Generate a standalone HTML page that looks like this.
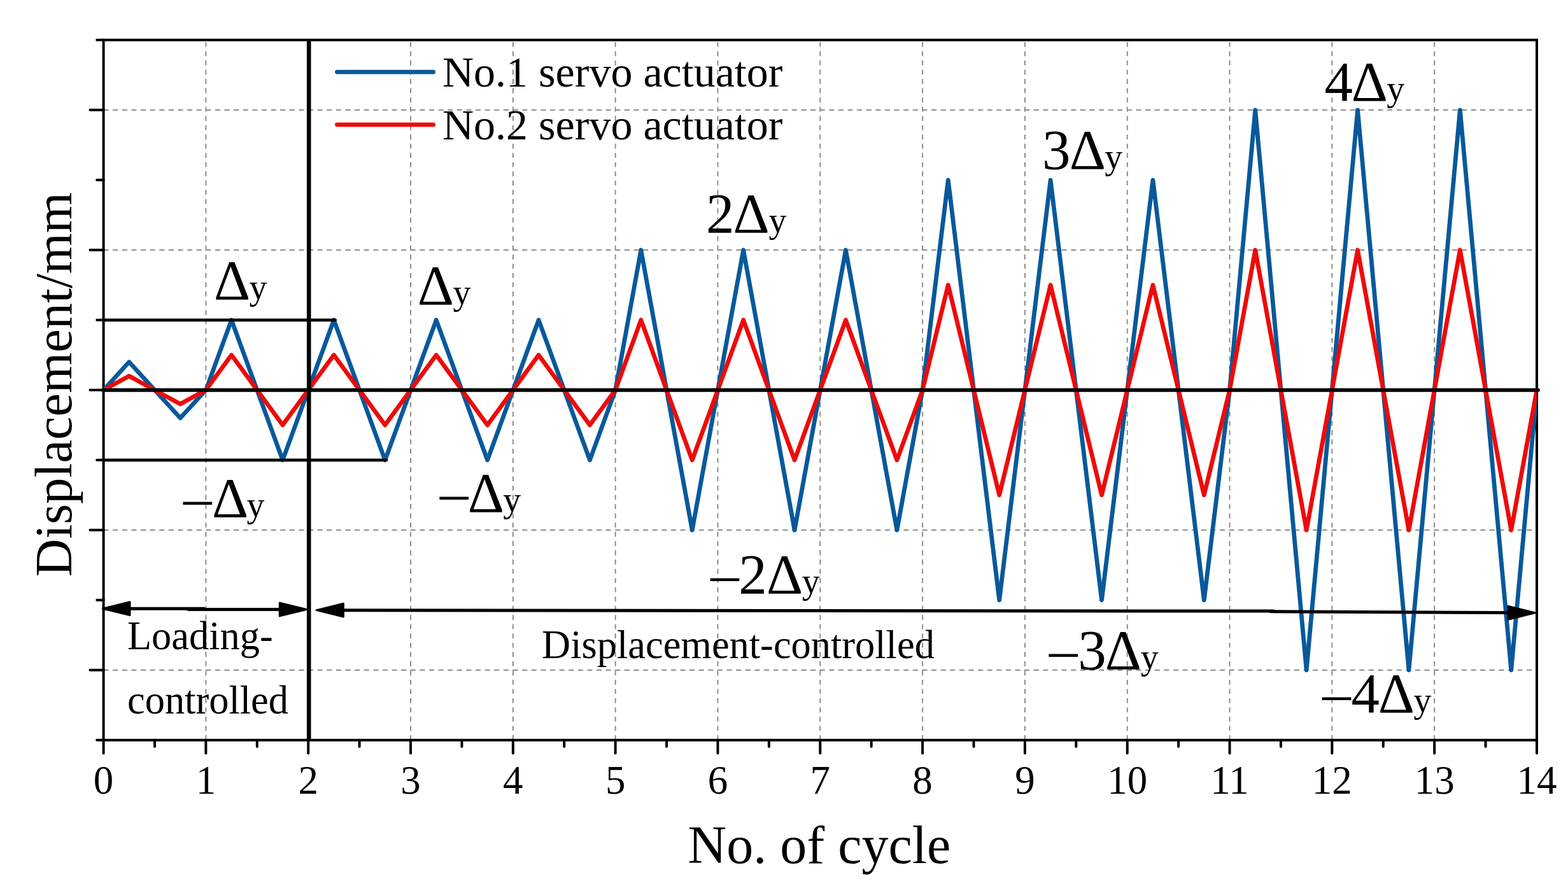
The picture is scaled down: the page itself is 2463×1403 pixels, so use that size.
<!DOCTYPE html><html><head><meta charset="utf-8"><title>Displacement vs cycle</title><style>html,body{margin:0;padding:0;background:#fff;}svg{display:block;}text{font-family:'Liberation Serif','Times New Roman',serif;fill:#000;}</style></head><body><svg width="2463" height="1403" viewBox="0 0 2463 1403"><rect width="2463" height="1403" fill="#fff"/><g stroke="#888888" stroke-width="1.9" fill="none"><line x1="323.41" y1="1162.80" x2="323.41" y2="62.80" stroke-dasharray="7.8 6.72"/><line x1="484.23" y1="1162.80" x2="484.23" y2="62.80" stroke-dasharray="7.8 6.72"/><line x1="645.04" y1="1162.80" x2="645.04" y2="62.80" stroke-dasharray="7.8 6.72"/><line x1="805.86" y1="1162.80" x2="805.86" y2="62.80" stroke-dasharray="7.8 6.72"/><line x1="966.67" y1="1162.80" x2="966.67" y2="62.80" stroke-dasharray="7.8 6.72"/><line x1="1127.48" y1="1162.80" x2="1127.48" y2="62.80" stroke-dasharray="7.8 6.72"/><line x1="1288.30" y1="1162.80" x2="1288.30" y2="62.80" stroke-dasharray="7.8 6.72"/><line x1="1449.11" y1="1162.80" x2="1449.11" y2="62.80" stroke-dasharray="7.8 6.72"/><line x1="1609.93" y1="1162.80" x2="1609.93" y2="62.80" stroke-dasharray="7.8 6.72"/><line x1="1770.74" y1="1162.80" x2="1770.74" y2="62.80" stroke-dasharray="7.8 6.72"/><line x1="1931.55" y1="1162.80" x2="1931.55" y2="62.80" stroke-dasharray="7.8 6.72"/><line x1="2092.37" y1="1162.80" x2="2092.37" y2="62.80" stroke-dasharray="7.8 6.72"/><line x1="2253.18" y1="1162.80" x2="2253.18" y2="62.80" stroke-dasharray="7.8 6.72"/><line x1="162.60" y1="172.80" x2="2414.00" y2="172.80" stroke-dasharray="8 6.612"/><line x1="162.60" y1="392.80" x2="2414.00" y2="392.80" stroke-dasharray="8 6.612"/><line x1="162.60" y1="832.80" x2="2414.00" y2="832.80" stroke-dasharray="8 6.612"/><line x1="162.60" y1="1052.80" x2="2414.00" y2="1052.80" stroke-dasharray="8 6.612"/></g><g stroke="#000" fill="none" stroke-width="4" stroke-linecap="round"><rect x="162.60" y="62.80" width="2251.40" height="1100.00" fill="none"/><line x1="152.20" y1="1162.80" x2="162.60" y2="1162.80"/><line x1="141.50" y1="1052.80" x2="162.60" y2="1052.80"/><line x1="152.20" y1="942.80" x2="162.60" y2="942.80"/><line x1="141.50" y1="832.80" x2="162.60" y2="832.80"/><line x1="152.20" y1="722.80" x2="162.60" y2="722.80"/><line x1="141.50" y1="612.80" x2="162.60" y2="612.80"/><line x1="152.20" y1="502.80" x2="162.60" y2="502.80"/><line x1="141.50" y1="392.80" x2="162.60" y2="392.80"/><line x1="152.20" y1="282.80" x2="162.60" y2="282.80"/><line x1="141.50" y1="172.80" x2="162.60" y2="172.80"/><line x1="152.20" y1="62.80" x2="162.60" y2="62.80"/><line x1="162.60" y1="1162.80" x2="162.60" y2="1183.50"/><line x1="243.01" y1="1162.80" x2="243.01" y2="1173.10"/><line x1="323.41" y1="1162.80" x2="323.41" y2="1183.50"/><line x1="403.82" y1="1162.80" x2="403.82" y2="1173.10"/><line x1="484.23" y1="1162.80" x2="484.23" y2="1183.50"/><line x1="564.63" y1="1162.80" x2="564.63" y2="1173.10"/><line x1="645.04" y1="1162.80" x2="645.04" y2="1183.50"/><line x1="725.45" y1="1162.80" x2="725.45" y2="1173.10"/><line x1="805.86" y1="1162.80" x2="805.86" y2="1183.50"/><line x1="886.26" y1="1162.80" x2="886.26" y2="1173.10"/><line x1="966.67" y1="1162.80" x2="966.67" y2="1183.50"/><line x1="1047.08" y1="1162.80" x2="1047.08" y2="1173.10"/><line x1="1127.48" y1="1162.80" x2="1127.48" y2="1183.50"/><line x1="1207.89" y1="1162.80" x2="1207.89" y2="1173.10"/><line x1="1288.30" y1="1162.80" x2="1288.30" y2="1183.50"/><line x1="1368.70" y1="1162.80" x2="1368.70" y2="1173.10"/><line x1="1449.11" y1="1162.80" x2="1449.11" y2="1183.50"/><line x1="1529.52" y1="1162.80" x2="1529.52" y2="1173.10"/><line x1="1609.93" y1="1162.80" x2="1609.93" y2="1183.50"/><line x1="1690.33" y1="1162.80" x2="1690.33" y2="1173.10"/><line x1="1770.74" y1="1162.80" x2="1770.74" y2="1183.50"/><line x1="1851.15" y1="1162.80" x2="1851.15" y2="1173.10"/><line x1="1931.55" y1="1162.80" x2="1931.55" y2="1183.50"/><line x1="2011.96" y1="1162.80" x2="2011.96" y2="1173.10"/><line x1="2092.37" y1="1162.80" x2="2092.37" y2="1183.50"/><line x1="2172.78" y1="1162.80" x2="2172.78" y2="1173.10"/><line x1="2253.18" y1="1162.80" x2="2253.18" y2="1183.50"/><line x1="2333.59" y1="1162.80" x2="2333.59" y2="1173.10"/><line x1="2414.00" y1="1162.80" x2="2414.00" y2="1183.50"/></g><defs><clipPath id="pc"><rect x="162.60" y="62.80" width="2251.40" height="1100.00"/></clipPath></defs><g clip-path="url(#pc)"><path d="M162.60,612.80 L202.80,568.80 L243.01,612.80 L283.21,656.80 L323.41,612.80 L363.62,502.80 L403.82,612.80 L444.02,722.80 L484.23,612.80 L524.43,502.80 L564.63,612.80 L604.84,722.80 L645.04,612.80 L685.25,502.80 L725.45,612.80 L765.65,722.80 L805.86,612.80 L846.06,502.80 L886.26,612.80 L926.47,722.80 L966.67,612.80 L1006.87,392.80 L1047.08,612.80 L1087.28,832.80 L1127.48,612.80 L1167.69,392.80 L1207.89,612.80 L1248.09,832.80 L1288.30,612.80 L1328.50,392.80 L1368.70,612.80 L1408.91,832.80 L1449.11,612.80 L1489.32,282.80 L1529.52,612.80 L1569.72,942.80 L1609.93,612.80 L1650.13,282.80 L1690.33,612.80 L1730.54,942.80 L1770.74,612.80 L1810.94,282.80 L1851.15,612.80 L1891.35,942.80 L1931.55,612.80 L1971.76,172.80 L2011.96,612.80 L2052.16,1052.80 L2092.37,612.80 L2132.57,172.80 L2172.78,612.80 L2212.98,1052.80 L2253.18,612.80 L2293.39,172.80 L2333.59,612.80 L2373.79,1052.80 L2414.00,612.80" fill="none" stroke="#08599B" stroke-width="6.8" stroke-linejoin="round" stroke-linecap="round"/><path d="M162.60,612.80 L202.80,590.80 L243.01,612.80 L283.21,634.80 L323.41,612.80 L363.62,557.80 L403.82,612.80 L444.02,667.80 L484.23,612.80 L524.43,557.80 L564.63,612.80 L604.84,667.80 L645.04,612.80 L685.25,557.80 L725.45,612.80 L765.65,667.80 L805.86,612.80 L846.06,557.80 L886.26,612.80 L926.47,667.80 L966.67,612.80 L1006.87,502.80 L1047.08,612.80 L1087.28,722.80 L1127.48,612.80 L1167.69,502.80 L1207.89,612.80 L1248.09,722.80 L1288.30,612.80 L1328.50,502.80 L1368.70,612.80 L1408.91,722.80 L1449.11,612.80 L1489.32,447.80 L1529.52,612.80 L1569.72,777.80 L1609.93,612.80 L1650.13,447.80 L1690.33,612.80 L1730.54,777.80 L1770.74,612.80 L1810.94,447.80 L1851.15,612.80 L1891.35,777.80 L1931.55,612.80 L1971.76,392.80 L2011.96,612.80 L2052.16,832.80 L2092.37,612.80 L2132.57,392.80 L2172.78,612.80 L2212.98,832.80 L2253.18,612.80 L2293.39,392.80 L2333.59,612.80 L2373.79,832.80 L2414.00,612.80" fill="none" stroke="#EE0A0A" stroke-width="6.8" stroke-linejoin="round" stroke-linecap="round"/></g><g stroke="#000" fill="none" stroke-linecap="round"><line x1="161.60" y1="612.80" x2="2416.00" y2="612.80" stroke-width="5.8"/><line x1="162.60" y1="502.80" x2="526.63" y2="502.80" stroke-width="4.8"/><line x1="162.60" y1="722.80" x2="607.04" y2="722.80" stroke-width="4.8"/><line x1="485.2" y1="62.80" x2="485.2" y2="1162.80" stroke-width="6.6" stroke-linecap="butt"/></g><g stroke="#000" fill="#000" stroke-width="5" stroke-linecap="round" stroke-linejoin="round"><line x1="163" y1="956.2" x2="320.5" y2="956.2"/><line x1="296" y1="957.4" x2="470" y2="957.6"/><line x1="510" y1="958.7" x2="2000" y2="960.1"/><line x1="1996" y1="960.8" x2="2400" y2="962.7"/><g stroke-width="3"><path d="M161.8,956.2 L204.0,945.8 L204.0,966.6 Z"/><path d="M481.5,957.5 L439.3,947.1 L439.3,967.9 Z"/><path d="M497.2,958.6 L539.4,948.2 L539.4,969.0 Z"/><path d="M2411.2,962.8 L2369.0,952.4 L2369.0,973.2 Z"/></g></g><line x1="529.5" y1="113.1" x2="680.7" y2="113.1" stroke="#08599B" stroke-width="6.8" stroke-linecap="round"/><line x1="529.5" y1="195.8" x2="680.7" y2="195.8" stroke="#EE0A0A" stroke-width="6.8" stroke-linecap="round"/><text x="695.0" y="135.9" font-size="68">No.1 servo actuator</text><text x="695.0" y="219.3" font-size="68">No.2 servo actuator</text><text x="335.9" y="469.7" font-size="89">Δ</text><text x="391.6" y="469.7" font-size="56">y</text><text x="655.8" y="477.8" font-size="89">Δ</text><text x="711.4" y="477.8" font-size="56">y</text><text x="1109.0" y="364.9" font-size="89">2</text><text x="1151.6" y="364.9" font-size="89">Δ</text><text x="1207.5" y="364.9" font-size="56">y</text><text x="1637.0" y="264.8" font-size="89">3</text><text x="1679.7" y="264.8" font-size="89">Δ</text><text x="1735.3" y="264.8" font-size="56">y</text><text x="2080.4" y="158.0" font-size="89">4</text><text x="2122.7" y="158.0" font-size="89">Δ</text><text x="2178.3" y="158.0" font-size="56">y</text><text x="288.1" y="811.8" font-size="89">–</text><text x="332.9" y="811.8" font-size="89">Δ</text><text x="387.5" y="811.8" font-size="56">y</text><text x="690.9" y="803.9" font-size="89">–</text><text x="734.7" y="803.9" font-size="89">Δ</text><text x="790.3" y="803.9" font-size="56">y</text><text x="1116.2" y="931.6" font-size="89">–</text><text x="1160.2" y="931.6" font-size="89">2</text><text x="1203.9" y="931.6" font-size="89">Δ</text><text x="1259.7" y="931.6" font-size="56">y</text><text x="1648.1" y="1050.6" font-size="89">–</text><text x="1693.3" y="1050.6" font-size="89">3</text><text x="1735.8" y="1050.6" font-size="89">Δ</text><text x="1791.7" y="1050.6" font-size="56">y</text><text x="2077.2" y="1118.6" font-size="89">–</text><text x="2122.4" y="1118.6" font-size="89">4</text><text x="2164.8" y="1118.6" font-size="89">Δ</text><text x="2220.5" y="1118.6" font-size="56">y</text><text x="200.0" y="1019.7" font-size="62.4">Loading-</text><text x="200.0" y="1120.7" font-size="62.4">controlled</text><text x="851.1" y="1033.9" font-size="62.4">Displacement-controlled</text><text x="162.60" y="1247" font-size="63" text-anchor="middle">0</text><text x="323.41" y="1247" font-size="63" text-anchor="middle">1</text><text x="484.23" y="1247" font-size="63" text-anchor="middle">2</text><text x="645.04" y="1247" font-size="63" text-anchor="middle">3</text><text x="805.86" y="1247" font-size="63" text-anchor="middle">4</text><text x="966.67" y="1247" font-size="63" text-anchor="middle">5</text><text x="1127.48" y="1247" font-size="63" text-anchor="middle">6</text><text x="1288.30" y="1247" font-size="63" text-anchor="middle">7</text><text x="1449.11" y="1247" font-size="63" text-anchor="middle">8</text><text x="1609.93" y="1247" font-size="63" text-anchor="middle">9</text><text x="1770.74" y="1247" font-size="63" text-anchor="middle">10</text><text x="1931.55" y="1247" font-size="63" text-anchor="middle">11</text><text x="2092.37" y="1247" font-size="63" text-anchor="middle">12</text><text x="2253.18" y="1247" font-size="63" text-anchor="middle">13</text><text x="2414.00" y="1247" font-size="63" text-anchor="middle">14</text><text x="1080.5" y="1355.9" font-size="84">No. of cycle</text><text transform="translate(111.8,906.1) rotate(-90)" x="0" y="0" font-size="82.4">Displacement/mm</text></svg></body></html>
